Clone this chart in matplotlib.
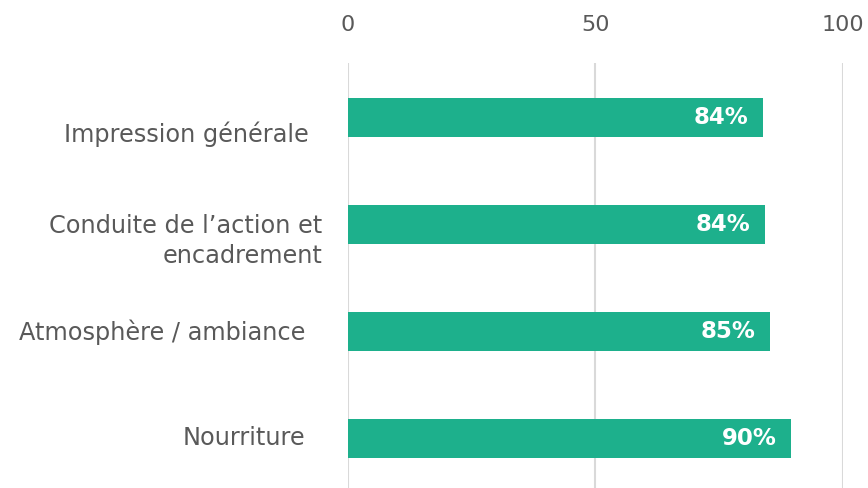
import matplotlib
matplotlib.use("Agg")
import matplotlib.pyplot as plt
import matplotlib.transforms as mtrans
import numpy as np

categories = ["Impression générale", "Conduite de l\u2019action et\nencadrement",
              "Atmosphère / ambiance", "Nourriture"]
values = [83.8, 84.2, 85.2, 89.6]
labels = ["84%", "84%", "85%", "90%"]
xticks = [0, 50, 100]

plt.rcParams['font.family'] = 'DejaVu Sans'
grey = '#595959'

fig = plt.figure(figsize=(8.68, 4.88), dpi=100)
ax = fig.add_axes([0.401, 0.0, 0.570, 0.871])

y = np.arange(len(categories))
ax.barh(y, values, height=0.36, color='#1DB08C', zorder=2)

for yi, v, lab in zip(y, values, labels):
    ax.text(v - 2.9, yi, lab, ha='right', va='center', color='white',
            fontsize=16.5, fontweight='bold', zorder=3)

ax.set_xlim(0, 100)
ax.set_ylim(3.46, -0.51)
ax.set_xticks(xticks)
ax.xaxis.tick_top()
ax.tick_params(axis='x', length=0, pad=20, labelsize=16, labelcolor=grey)
ax.set_yticks(y)
ax.set_yticklabels(categories, fontsize=17.3, color=grey, linespacing=1.3)
ax.tick_params(axis='y', length=0, pad=18.5)
ax.grid(axis='x', color='#d9d9d9', linewidth=1.5, zorder=0)
for s in ax.spines.values():
    s.set_visible(False)

# nudge labels like in the original layout (pixels)
shifts = [(-14, -14), (0, -11), (-17, 2), (-17, 3)]
for lbl, (dx, dy) in zip(ax.get_yticklabels(), shifts):
    off = mtrans.ScaledTranslation(dx / 100, dy / 100, fig.dpi_scale_trans)
    lbl.set_transform(lbl.get_transform() + off)

fig.savefig("out.png", dpi=100)
